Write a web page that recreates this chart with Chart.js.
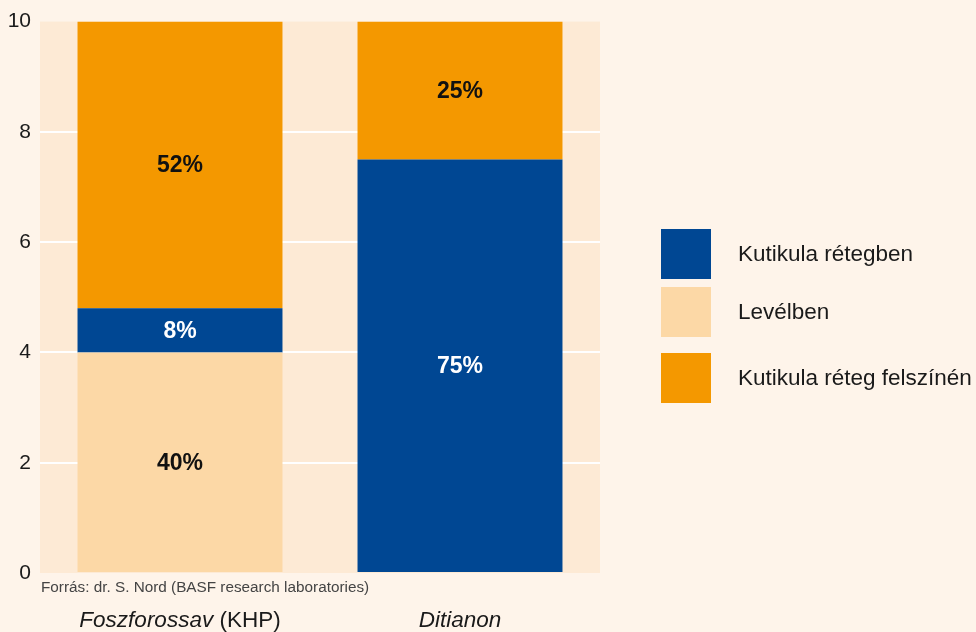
<!DOCTYPE html>
<html><head><meta charset="utf-8">
<script src="https://cdn.jsdelivr.net/npm/chart.js@4/dist/chart.umd.min.js"></script>
<style>html,body{margin:0;padding:0;background:#fef4ea;}#wrap{width:976px;height:632px;position:relative;}</style>
</head><body><div id="wrap"><canvas id="c" width="976" height="632"></canvas></div>
<script>
const categories = ["Foszforossav", "Ditianon"];
const categorySuffix = [" (KHP)", ""];
const seriesNames = ["Levélben", "Kutikula rétegben", "Kutikula réteg felszínén"];
const levelben = [4.0, 0];
const kutikulaRetegben = [0.8, 7.5];
const felszinen = [5.2, 2.5];
const levelbenLabels = ["40%", ""];
const kutikulaLabels = ["8%", "75%"];
const felszinenLabels = ["52%", "25%"];
const yTicks = [0, 2, 4, 6, 8, 10];
const legendOrder = [1, 0, 2];
const sourceText = "Forrás: dr. S. Nord (BASF research laboratories)";

const FONT = "'Liberation Sans', Arial, sans-serif";
const colors = ["#fcd8a6", "#004793", "#f49800"];
const labelColors = ["#111", "#fff", "#111"];
const allLabels = [levelbenLabels, kutikulaLabels, felszinenLabels];

const decor = {
  id: 'decor',
  beforeDraw(chart) {
    const {ctx, chartArea: a} = chart;
    ctx.save();
    ctx.fillStyle = '#fdead5';
    ctx.fillRect(a.left, a.top, a.right - a.left, a.bottom - a.top);
    ctx.restore();
  },
  afterDatasetsDraw(chart) {
    const ctx = chart.ctx;
    ctx.save();
    ctx.font = "bold 23px " + FONT;
    ctx.textAlign = 'center';
    ctx.textBaseline = 'middle';
    chart.data.datasets.forEach((ds, di) => {
      const meta = chart.getDatasetMeta(di);
      meta.data.forEach((bar, i) => {
        const t = allLabels[di][i];
        if (!t) return;
        const yc = (bar.y + bar.base) / 2;
        ctx.fillStyle = labelColors[di];
        ctx.fillText(t, bar.x, yc + 1);
      });
    });
    ctx.restore();
  },
  afterDraw(chart) {
    const {ctx, chartArea: a, scales} = chart;
    ctx.save();
    // source
    ctx.font = "15.3px " + FONT;
    ctx.fillStyle = '#444';
    ctx.textAlign = 'left';
    ctx.textBaseline = 'middle';
    ctx.fillText(sourceText, a.left + 1, 588);
    // x labels
    ctx.fillStyle = '#1a1a1a';
    categories.forEach((c, i) => {
      const x = scales.x.getPixelForValue(i);
      ctx.font = "italic 22.5px " + FONT;
      const w1 = ctx.measureText(c).width;
      ctx.font = "22.5px " + FONT;
      const w2 = ctx.measureText(categorySuffix[i]).width;
      let sx = x - (w1 + w2) / 2;
      ctx.textAlign = 'left';
      ctx.font = "italic 22.5px " + FONT;
      ctx.fillText(c, sx, 621);
      ctx.font = "22.5px " + FONT;
      ctx.fillText(categorySuffix[i], sx + w1, 621);
    });
    // legend
    const rows = [254, 312, 378];
    legendOrder.forEach((di, k) => {
      const ds = chart.data.datasets[di];
      ctx.fillStyle = ds.backgroundColor;
      ctx.fillRect(661, rows[k] - 25, 50, 50);
      ctx.fillStyle = '#1a1a1a';
      ctx.font = "22.5px " + FONT;
      ctx.textAlign = 'left';
      ctx.fillText(ds.label, 738, rows[k] + 1);
    });
    ctx.restore();
  }
};

new Chart(document.getElementById('c'), {
  type: 'bar',
  data: {
    labels: categories,
    datasets: [levelben, kutikulaRetegben, felszinen].map((d, i) => ({
      label: seriesNames[i], data: d, backgroundColor: colors[i], borderWidth: 0,
      categoryPercentage: 1, barPercentage: 0.732
    }))
  },
  options: {
    responsive: false, animation: false,
    layout: {autoPadding: false, padding: {top: 19, right: 376, bottom: 59, left: 0}},
    plugins: {legend: {display: false}, tooltip: {enabled: false}},
    scales: {
      x: {stacked: true, display: false},
      y: {
        stacked: true, min: 0, max: 10,
        afterFit(s) { s.width = 40; },
        afterBuildTicks(s) { s.ticks = yTicks.map(v => ({value: v})); },
        border: {display: false},
        grid: {drawTicks: false, lineWidth: 2,
          color: c => (c.tick && (c.tick.value === 0 || c.tick.value === 10)) ? 'rgba(0,0,0,0)' : '#ffffff'},
        ticks: {padding: 9, color: '#1a1a1a', font: {family: FONT, size: 21}}
      }
    }
  },
  plugins: [decor]
});
</script></body></html>
